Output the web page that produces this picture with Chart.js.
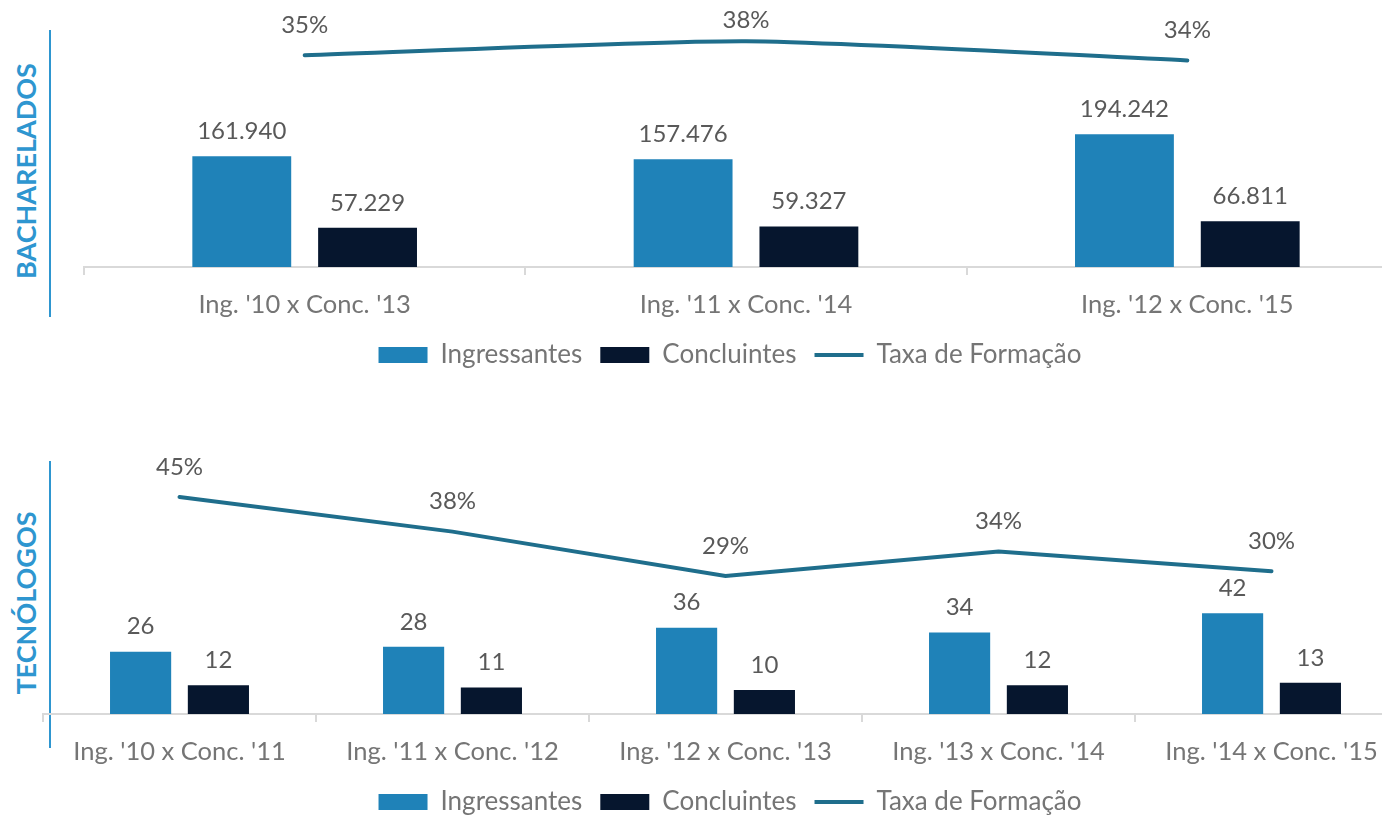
<!DOCTYPE html>
<html>
<head>
<meta charset="utf-8">
<script src="https://cdn.jsdelivr.net/npm/chart.js@4.4.0/dist/chart.umd.min.js"></script>
<style>
  html, body { margin: 0; padding: 0; background: #fff; width: 1382px; height: 815px; overflow: hidden; position: relative; font-family: Lato, sans-serif; }
  .box { position: absolute; left: 40px; width: 1380px; height: 378px; }
  .side { position: absolute; left: 49px; width: 2px; background: #2e96d0; }
  .title { position: absolute; color: #2e96d0; font-weight: bold; font-size: 27px; white-space: nowrap;
           transform: translate(-50%, -50%) rotate(-90deg); }
</style>
</head>
<body>
<div class="side" style="top:30px;height:287px"></div>
<div class="title" style="left:25px;top:171px">BACHARELADOS</div>
<div class="side" style="top:461px;height:287px"></div>
<div class="title" style="left:25px;top:603px">TECNÓLOGOS</div>

<div class="box" style="top:0px"><canvas id="bach" width="1380" height="378"></canvas></div>
<div class="box" style="top:447px"><canvas id="tec" width="1380" height="378"></canvas></div>

<script>
// Bacharelados
const bachLabels = ["Ing. '10 x Conc. '13", "Ing. '11 x Conc. '14", "Ing. '12 x Conc. '15"];
const bachIngressantes = [161940, 157476, 194242];
const bachConcluintes = [57229, 59327, 66811];
const bachTaxa = [35.3, 37.7, 34.4];

// Tecnólogos
const tecLabels = ["Ing. '10 x Conc. '11", "Ing. '11 x Conc. '12", "Ing. '12 x Conc. '13", "Ing. '13 x Conc. '14", "Ing. '14 x Conc. '15"];
const tecIngressantes = [26, 28, 36, 34, 42];
const tecConcluintes = [12, 11, 10, 12, 13];
const tecTaxa = [45, 38, 29, 34, 30];

const FONT = 'Lato';
const BLUE = '#1f82b8';
const DARK = '#06162e';
const LINE = '#1f6e8c';

function fmt(v) {
    return String(v).replace(/\B(?=(\d{3})+(?!\d))/g, '.');
}

// draws the numbers above bars and line points
const valueLabels = {
    id: 'valueLabels',
    afterDatasetsDraw(chart) {
        const ctx = chart.ctx;
        ctx.save();
        ctx.font = '24px ' + FONT;
        ctx.fillStyle = '#595959';
        ctx.textAlign = 'center';
        ctx.textBaseline = 'middle';
        chart.data.datasets.forEach((ds, i) => {
            chart.getDatasetMeta(i).data.forEach((el, j) => {
                const v = ds.data[j];
                if (ds.type === 'line') {
                    ctx.fillText(Math.round(v) + '%', el.x, Math.max(el.y - 30, 20));
                } else {
                    ctx.fillText(fmt(v), el.x, el.y - 25);
                }
            });
        });
        ctx.restore();
    }
};

function makeChart(id, labels, ing, conc, taxa, o) {
    return new Chart(document.getElementById(id), {
        type: 'bar',
        data: {
            labels: labels,
            datasets: [
                { label: 'Ingressantes', data: ing, backgroundColor: BLUE, borderWidth: 0, pointStyle: 'rect', yAxisID: 'y' },
                { label: 'Concluintes', data: conc, backgroundColor: DARK, borderWidth: 0, pointStyle: 'rect', yAxisID: 'y' },
                { type: 'line', label: 'Taxa de Formação', data: taxa, borderColor: LINE, backgroundColor: LINE,
                  borderWidth: 4, borderCapStyle: 'round', pointRadius: 0, pointStyle: 'line', tension: o.tension, yAxisID: 'y2' }
            ]
        },
        options: {
            responsive: false,
            devicePixelRatio: 1,
            animation: false,
            categoryPercentage: 0.57,
            barPercentage: 0.786,
            layout: { padding: { top: 8 } },
            plugins: {
                tooltip: { enabled: false },
                legend: {
                    position: 'bottom',
                    labels: {
                        usePointStyle: true,
                        pointStyleWidth: 49,
                        boxHeight: 16,
                        padding: 18,
                        color: '#757575',
                        font: { family: FONT, size: 26 }
                    }
                }
            },
            scales: {
                x: {
                    grid: { drawOnChartArea: false, drawTicks: true, tickLength: 8, color: '#d9d9d9', lineWidth: 2, offset: true },
                    border: { color: '#d9d9d9', width: 2 },
                    ticks: { color: '#757575', padding: 14, font: { family: FONT, size: 25.5 } },
                    afterFit(a) { a.height = 57; }
                },
                y: {
                    min: 0, max: o.barMax,
                    grid: { display: false }, border: { display: false }, ticks: { display: false },
                    afterFit(a) { a.width = o.leftW; }
                },
                y2: {
                    position: 'right',
                    min: o.lineMin, max: o.lineMax,
                    grid: { display: false }, border: { display: false }, ticks: { display: false },
                    afterFit(a) { a.width = 12; }
                }
            }
        },
        plugins: [valueLabels]
    });
}

makeChart('bach', bachLabels, bachIngressantes, bachConcluintes, bachTaxa,
    { leftW: 44, barMax: 378800, lineMin: -1.1, lineMax: 43.4, tension: 0.2 });
makeChart('tec', tecLabels, tecIngressantes, tecConcluintes, tecTaxa,
    { leftW: 3, barMax: 108, lineMin: 1.1, lineMax: 53.5, tension: 0 });
</script>
</body>
</html>
